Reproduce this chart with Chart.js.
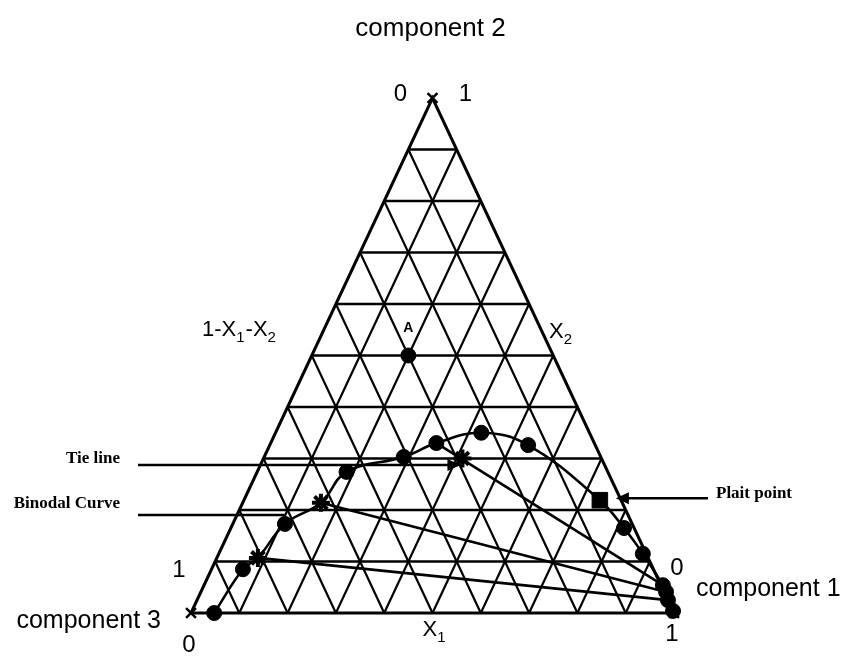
<!DOCTYPE html>
<html>
<head>
<meta charset="utf-8">
<script src="https://cdn.jsdelivr.net/npm/chart.js@4.4.1/dist/chart.umd.min.js"></script>
<style>
  html, body { margin: 0; padding: 0; background: #fff; }
</style>
</head>
<body>
<canvas id="chart" width="846" height="656"></canvas>
<script>
// mole fractions: x1 = component 1, x2 = component 2, component 3 = 1 - x1 - x2
const gridTicks = [0.1, 0.2, 0.3, 0.4, 0.5, 0.6, 0.7, 0.8, 0.9];

// binodal curve, left branch -> plait point -> right branch
const binodalX1 = [0.048, 0.065, 0.085, 0.108, 0.162, 0.185, 0.289, 0.343, 0.426, 0.535, 0.737, 0.814, 0.878, 0.950, 0.963, 0.975, 0.996];
const binodalX2 = [0.000, 0.085, 0.107, 0.173, 0.214, 0.274, 0.303, 0.330, 0.350, 0.326, 0.219, 0.165, 0.115, 0.054, 0.041, 0.025, 0.004];

// measured compositions (filled dots)
const dotX1 = [0.048, 0.065, 0.108, 0.185, 0.289, 0.343, 0.426, 0.535, 0.814, 0.878, 0.950, 0.963, 0.975, 0.996];
const dotX2 = [0.000, 0.085, 0.173, 0.274, 0.303, 0.330, 0.350, 0.326, 0.165, 0.115, 0.054, 0.041, 0.025, 0.004];

// tie lines: raffinate end (left) to extract end (right)
const tieLeftX1 = [0.085, 0.162, 0.343];
const tieLeftX2 = [0.107, 0.214, 0.330];
const tieRightX1 = [0.975, 0.963, 0.950];
const tieRightX2 = [0.025, 0.041, 0.054];

// mixture points marked with stars
const starX1 = [0.085, 0.162, 0.412];
const starX2 = [0.107, 0.214, 0.300];

const plaitPoint = [0.737, 0.219];
const pointA = [0.2, 0.5];
const vertexX1 = [0, 0, 1];
const vertexX2 = [1, 0, 0];

// ternary -> cartesian (apex sits above the middle of the base)
const toXY = (x1, x2) => ({ x: x1 + x2 / 2, y: x2 });
const zip = (a, b) => a.map((v, i) => toXY(v, b[i]));

function lineSet(points, width, extra) {
  return Object.assign({
    data: points,
    showLine: true,
    borderColor: '#000',
    borderWidth: width,
    pointRadius: 0,
    clip: false,
    order: 2
  }, extra || {});
}

const gridSets = [];
gridTicks.forEach((t) => {
  gridSets.push(lineSet([toXY(0, t), toXY(1 - t, t)], 2.4, { order: 3 }));
  gridSets.push(lineSet([toXY(t, 0), toXY(t, 1 - t)], 2.2, { order: 3 }));
  gridSets.push(lineSet([toXY(1 - t, 0), toXY(0, 1 - t)], 2.2, { order: 3 }));
});

const outline = lineSet([toXY(0, 0), toXY(1, 0), toXY(0, 1), toXY(0, 0)], 3, { order: 3 });

const tieSets = tieLeftX1.map((v, i) =>
  lineSet([toXY(v, tieLeftX2[i]), toXY(tieRightX1[i], tieRightX2[i])], 2.6));

const curve = lineSet(zip(binodalX1, binodalX2), 2.6, { tension: 0.4 });

const markers = [
  { data: zip(dotX1, dotX2), pointStyle: 'circle', pointRadius: 7.5, backgroundColor: '#000', borderColor: '#000' },
  { data: zip(starX1, starX2), pointStyle: 'star', pointRadius: 9, borderWidth: 4, borderColor: '#000', backgroundColor: '#000' },
  { data: [toXY(...plaitPoint)], pointStyle: 'rect', pointRadius: 11, backgroundColor: '#000', borderColor: '#000' },
  { data: [toXY(...pointA)], pointStyle: 'circle', pointRadius: 7.5, backgroundColor: '#000', borderColor: '#000' },
  { data: zip(vertexX1, vertexX2), pointStyle: 'crossRot', pointRadius: 7, borderWidth: 2.5, borderColor: '#000' }
].map((d) => Object.assign({ clip: false, order: 0 }, d));

const SANS = '"Liberation Sans", Arial, sans-serif';
const SERIF = '"Liberation Serif", "Times New Roman", serif';

// text made of normal and subscript runs, drawn left to right
function subText(ctx, runs, x, y, size) {
  let cx = x;
  ctx.textAlign = 'left';
  ctx.textBaseline = 'middle';
  runs.forEach(([txt, sub]) => {
    ctx.font = (sub ? Math.round(size * 0.68) : size) + 'px ' + SANS;
    ctx.fillText(txt, cx, sub ? y + size * 0.35 : y);
    cx += ctx.measureText(txt).width + (sub ? 1 : 0);
  });
}

function arrowHead(ctx, tipX, tipY, dir) {
  ctx.beginPath();
  ctx.moveTo(tipX, tipY);
  ctx.lineTo(tipX - dir * 13, tipY - 6);
  ctx.lineTo(tipX - dir * 13, tipY + 6);
  ctx.closePath();
  ctx.fill();
}

const labelPlugin = {
  id: 'ternaryLabels',
  afterDatasetsDraw(chart) {
    const { ctx, scales } = chart;
    const px = (x1, x2) => {
      const p = toXY(x1, x2);
      return [scales.x.getPixelForValue(p.x), scales.y.getPixelForValue(p.y)];
    };
    const [topX, topY] = px(0, 1);
    const [leftX, leftY] = px(0, 0);
    const [rightX, rightY] = px(1, 0);

    ctx.save();
    ctx.fillStyle = '#000';
    ctx.strokeStyle = '#000';
    ctx.textBaseline = 'middle';

    ctx.font = '26px ' + SANS;
    ctx.textAlign = 'center';
    ctx.fillText('component 2', topX - 2, 29);

    ctx.font = '24px ' + SANS;
    ctx.fillText('0', topX - 32, topY - 4);
    ctx.fillText('1', topX + 33, topY - 4);
    ctx.fillText('1', leftX - 12, leftY - 43);
    ctx.fillText('0', leftX - 2, leftY + 32);
    ctx.fillText('0', rightX + 3, rightY - 45);
    ctx.fillText('1', rightX - 2, rightY + 21);

    ctx.font = '25px ' + SANS;
    ctx.textAlign = 'right';
    ctx.fillText('component 3', leftX - 30, leftY + 8);
    ctx.textAlign = 'left';
    ctx.fillText('component 1', rightX + 22, rightY - 24);

    subText(ctx, [['1-X', false], ['1', true], ['-X', false], ['2', true]], 202, 330, 22);
    subText(ctx, [['X', false], ['2', true]], 549, 332, 22);
    subText(ctx, [['X', false], ['1', true]], (leftX + rightX) / 2 - 10, leftY + 17, 22);

    const [ax, ay] = px(...pointA);
    ctx.font = 'bold 14px ' + SANS;
    ctx.textAlign = 'center';
    ctx.fillText('A', ax, ay - 27);

    // pointer lines
    ctx.lineWidth = 2.6;
    const [sx] = px(starX1[2], starX2[2]);
    ctx.beginPath();
    ctx.moveTo(138, 465);
    ctx.lineTo(sx - 4, 465);
    ctx.stroke();
    arrowHead(ctx, sx - 2, 465, 1);

    const [bx] = px(binodalX1[3], binodalX2[3]);
    ctx.beginPath();
    ctx.moveTo(138, 515);
    ctx.lineTo(bx, 515);
    ctx.stroke();

    const [ppx, ppy] = px(...plaitPoint);
    ctx.beginPath();
    ctx.moveTo(ppx + 20, ppy - 2);
    ctx.lineTo(708, ppy - 2);
    ctx.stroke();
    arrowHead(ctx, ppx + 16, ppy - 2, -1);

    ctx.font = 'bold 17px ' + SERIF;
    ctx.textAlign = 'right';
    ctx.fillText('Tie line', 120, 459);
    ctx.fillText('Binodal Curve', 120, 504);
    ctx.textAlign = 'left';
    ctx.fillText('Plait point', 716, ppy - 7);

    ctx.restore();
  }
};

new Chart(document.getElementById('chart'), {
  type: 'scatter',
  data: { datasets: [...markers, curve, ...tieSets, outline, ...gridSets] },
  options: {
    responsive: false,
    animation: false,
    layout: { padding: { left: 191, right: 172, top: 98, bottom: 43 } },
    scales: {
      x: { type: 'linear', min: 0, max: 1, display: false },
      y: { type: 'linear', min: 0, max: 1, display: false }
    },
    plugins: { legend: { display: false }, tooltip: { enabled: false } }
  },
  plugins: [labelPlugin]
});
</script>
</body>
</html>
